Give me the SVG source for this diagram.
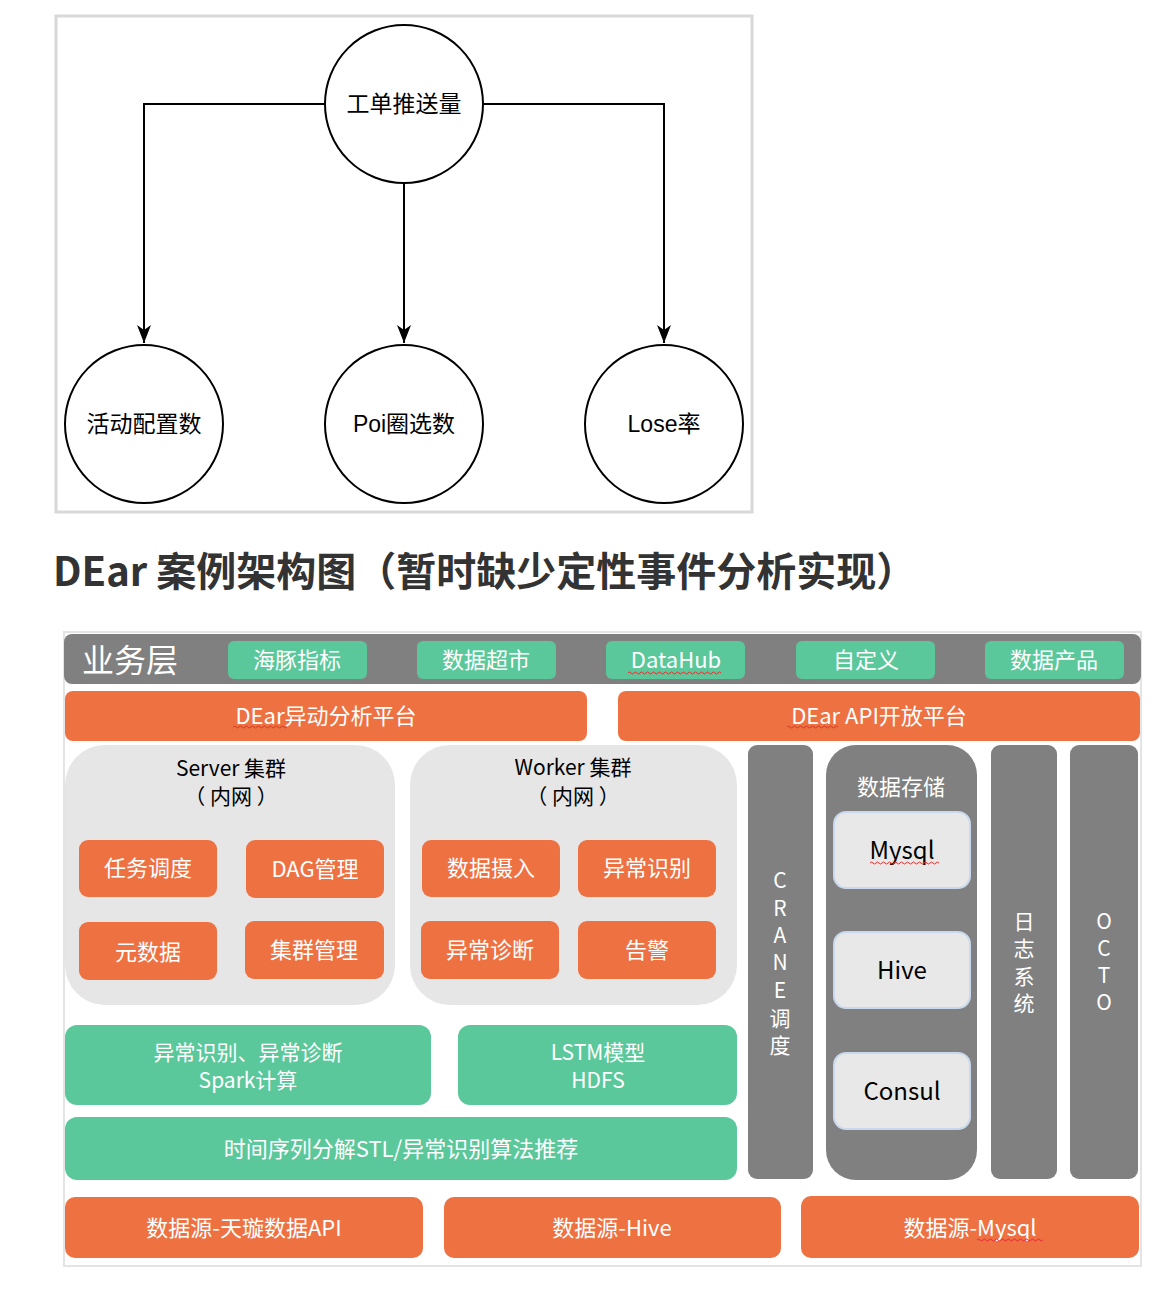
<svg xmlns="http://www.w3.org/2000/svg" width="1156" height="1290" viewBox="0 0 1156 1290">
<defs>
<marker id="arr" viewBox="0 0 18 14" refX="18" refY="7" markerWidth="18" markerHeight="14" markerUnits="userSpaceOnUse" orient="auto">
<path d="M0,0 L18,7 L0,14 L5,7 Z" fill="#000"/>
</marker>
</defs>
<style>
.circ{fill:#fff;stroke:#000;stroke-width:2}
.t1{font-family:"Liberation Sans","Noto Sans CJK SC",sans-serif;font-size:23px;fill:#000;text-anchor:middle}
.conn{fill:none;stroke:#000;stroke-width:2}
.cn{font-family:"Noto Sans CJK SC","Noto Sans",sans-serif;text-anchor:middle}
.green{fill:#5bc89c}
.orange{fill:#ee7142}
.gray{fill:#808080}
.light{fill:#e6e6e6}
.store{fill:#e8e8e8;stroke:#c9d8ec;stroke-width:2}
.wt{fill:#fff;font-size:22px}
.w2{fill:#fff;font-size:21px}
.vt{fill:#fff;font-size:21px}
.bt{fill:#000;font-size:21px}
.wavy{fill:none;stroke:#e03030;stroke-width:1}
</style>
<rect width="1156" height="1290" fill="#fff"/>
<rect x="56" y="16" width="696" height="496" fill="#fff" stroke="#d8d8d8" stroke-width="3"/>
<g id="connectors">
<path class="conn" d="M325,104 H144 V343" marker-end="url(#arr)"/>
<path class="conn" d="M404,183 V343" marker-end="url(#arr)"/>
<path class="conn" d="M483,104 H664 V343" marker-end="url(#arr)"/>
</g>
<g id="n-top"><circle class="circ" cx="404" cy="104" r="79"/><text class="t1" x="404" y="112">工单推送量</text></g>
<g id="n-act"><circle class="circ" cx="144" cy="424" r="79"/><text class="t1" x="144" y="432">活动配置数</text></g>
<g id="n-poi"><circle class="circ" cx="404" cy="424" r="79"/><text class="t1" x="404" y="432">Poi圈选数</text></g>
<g id="n-lose"><circle class="circ" cx="664" cy="424" r="79"/><text class="t1" x="664" y="432">Lose率</text></g>

<text x="53" y="586" font-family="'Noto Sans CJK SC','Liberation Sans',sans-serif" font-size="40" font-weight="bold" fill="#333">DEar 案例架构图（暂时缺少定性事件分析实现）</text>

<g id="arch">
<path d="M64,1266 V632 H1141 V1266 Z" fill="#fff" stroke="#e4e4e4" stroke-width="2"/>
<g id="biz">
<rect class="gray" x="64" y="634" width="1077" height="50" rx="8"/>
<text class="cn" x="130" y="672" font-size="32" fill="#fff">业务层</text>
</g>
<g id="b1"><rect class="green" x="228" y="641" width="139" height="38" rx="6"/><text class="cn wt" x="297" y="668">海豚指标</text></g>
<g id="b2"><rect class="green" x="417" y="641" width="139" height="38" rx="6"/><text class="cn wt" x="486" y="668">数据超市</text></g>
<g id="b3"><rect class="green" x="606" y="641" width="139" height="38" rx="6"/><text class="cn wt" x="676" y="668">DataHub</text><path class="wavy" d="M628,673 q1.5,-2 3,0 t3,0 t3,0 t3,0 t3,0 t3,0 t3,0 t3,0 t3,0 t3,0 t3,0 t3,0 t3,0 t3,0 t3,0 t3,0 t3,0 t3,0 t3,0 t3,0 t3,0 t3,0 t3,0 t3,0 t3,0 t3,0 t3,0 t3,0 t3,0 t3,0 t3,0"/></g>
<g id="b4"><rect class="green" x="796" y="641" width="139" height="38" rx="6"/><text class="cn wt" x="866" y="668">自定义</text></g>
<g id="b5"><rect class="green" x="985" y="641" width="139" height="38" rx="6"/><text class="cn wt" x="1054" y="668">数据产品</text></g>

<g id="p1"><rect class="orange" x="65" y="691" width="522" height="50" rx="8"/><text class="cn wt" x="326" y="724">DEar异动分析平台</text><path class="wavy" d="M233,727 q1.5,-2 3,0 t3,0 t3,0 t3,0 t3,0 t3,0 t3,0 t3,0 t3,0 t3,0 t3,0 t3,0 t3,0 t3,0 t3,0 t3,0 t3,0 t3,0"/></g>
<g id="p2"><rect class="orange" x="618" y="691" width="522" height="50" rx="8"/><text class="cn wt" x="879" y="724">DEar API开放平台</text><path class="wavy" d="M787,727 q1.5,-2 3,0 t3,0 t3,0 t3,0 t3,0 t3,0 t3,0 t3,0 t3,0 t3,0 t3,0 t3,0 t3,0 t3,0 t3,0 t3,0 t3,0"/></g>

<g id="server">
<rect class="light" x="65" y="745" width="330" height="260" rx="40"/>
<text class="cn bt" x="231" y="776">Server 集群</text>
<text class="cn bt" x="231" y="804">（ 内网 ）</text>
</g>
<g id="s1"><rect class="orange" x="79" y="840" width="138" height="57" rx="9"/><text class="cn wt" x="148" y="876">任务调度</text></g>
<g id="s2"><rect class="orange" x="246" y="840" width="138" height="58" rx="9"/><text class="cn wt" x="315" y="877">DAG管理</text></g>
<g id="s3"><rect class="orange" x="79" y="922" width="138" height="58" rx="9"/><text class="cn wt" x="148" y="960">元数据</text></g>
<g id="s4"><rect class="orange" x="245" y="921" width="139" height="58" rx="9"/><text class="cn wt" x="314" y="958">集群管理</text></g>

<g id="worker">
<rect class="light" x="410" y="745" width="327" height="260" rx="40"/>
<text class="cn bt" x="573" y="775">Worker 集群</text>
<text class="cn bt" x="573" y="804">（ 内网 ）</text>
</g>
<g id="w1"><rect class="orange" x="422" y="840" width="138" height="57" rx="9"/><text class="cn wt" x="491" y="876">数据摄入</text></g>
<g id="w2"><rect class="orange" x="578" y="840" width="138" height="57" rx="9"/><text class="cn wt" x="647" y="876">异常识别</text></g>
<g id="w3"><rect class="orange" x="421" y="921" width="138" height="58" rx="9"/><text class="cn wt" x="490" y="958">异常诊断</text></g>
<g id="w4"><rect class="orange" x="578" y="921" width="138" height="58" rx="9"/><text class="cn wt" x="647" y="958">告警</text></g>

<g id="crane">
<rect class="gray" x="748" y="745" width="65" height="434" rx="9"/>
<text class="cn vt" x="780" y="888">C</text>
<text class="cn vt" x="780" y="916">R</text>
<text class="cn vt" x="780" y="943">A</text>
<text class="cn vt" x="780" y="970">N</text>
<text class="cn vt" x="780" y="998">E</text>
<text class="cn vt" x="780" y="1026">调</text>
<text class="cn vt" x="780" y="1053">度</text>
</g>

<g id="storage">
<rect class="gray" x="826" y="745" width="151" height="435" rx="30"/>
<text class="cn wt" x="901" y="795">数据存储</text>
</g>
<g id="mysql"><rect class="store" x="834" y="812" width="136" height="76" rx="12"/><text class="cn" x="902" y="859" font-size="24" fill="#000">Mysql</text><path class="wavy" d="M870,863 q1.5,-2 3,0 t3,0 t3,0 t3,0 t3,0 t3,0 t3,0 t3,0 t3,0 t3,0 t3,0 t3,0 t3,0 t3,0 t3,0 t3,0 t3,0 t3,0 t3,0 t3,0 t3,0 t3,0 t3,0"/></g>
<g id="hive"><rect class="store" x="834" y="932" width="136" height="76" rx="12"/><text class="cn" x="902" y="979" font-size="24" fill="#000">Hive</text></g>
<g id="consul"><rect class="store" x="834" y="1053" width="136" height="76" rx="12"/><text class="cn" x="902" y="1100" font-size="24" fill="#000">Consul</text></g>

<g id="log">
<rect class="gray" x="991" y="745" width="66" height="434" rx="9"/>
<text class="cn vt" x="1024" y="929">日</text>
<text class="cn vt" x="1024" y="956">志</text>
<text class="cn vt" x="1024" y="984">系</text>
<text class="cn vt" x="1024" y="1011">统</text>
</g>
<g id="octo">
<rect class="gray" x="1070" y="745" width="68" height="434" rx="9"/>
<text class="cn vt" x="1104" y="929">O</text>
<text class="cn vt" x="1104" y="956">C</text>
<text class="cn vt" x="1104" y="983">T</text>
<text class="cn vt" x="1104" y="1010">O</text>
</g>

<g id="g1"><rect class="green" x="65" y="1025" width="366" height="80" rx="12"/><text class="cn w2" x="248" y="1060">异常识别、异常诊断</text><text class="cn w2" x="248" y="1088">Spark计算</text></g>
<g id="g2"><rect class="green" x="458" y="1025" width="279" height="80" rx="12"/><text class="cn w2" x="598" y="1060">LSTM模型</text><text class="cn w2" x="598" y="1088">HDFS</text></g>
<g id="g3"><rect class="green" x="65" y="1117" width="672" height="63" rx="12"/><text class="cn wt" x="401" y="1157">时间序列分解STL/异常识别算法推荐</text></g>

<g id="d1"><rect class="orange" x="65" y="1197" width="358" height="61" rx="10"/><text class="cn wt" x="244" y="1236">数据源-天璇数据API</text></g>
<g id="d2"><rect class="orange" x="444" y="1197" width="337" height="61" rx="10"/><text class="cn wt" x="612" y="1236">数据源-Hive</text></g>
<g id="d3"><rect class="orange" x="801" y="1196" width="338" height="62" rx="10"/><text class="cn wt" x="970" y="1236">数据源-Mysql</text><path class="wavy" d="M977,1240 q1.5,-2 3,0 t3,0 t3,0 t3,0 t3,0 t3,0 t3,0 t3,0 t3,0 t3,0 t3,0 t3,0 t3,0 t3,0 t3,0 t3,0 t3,0 t3,0 t3,0 t3,0 t3,0 t3,0"/></g>
</g>
</svg>
